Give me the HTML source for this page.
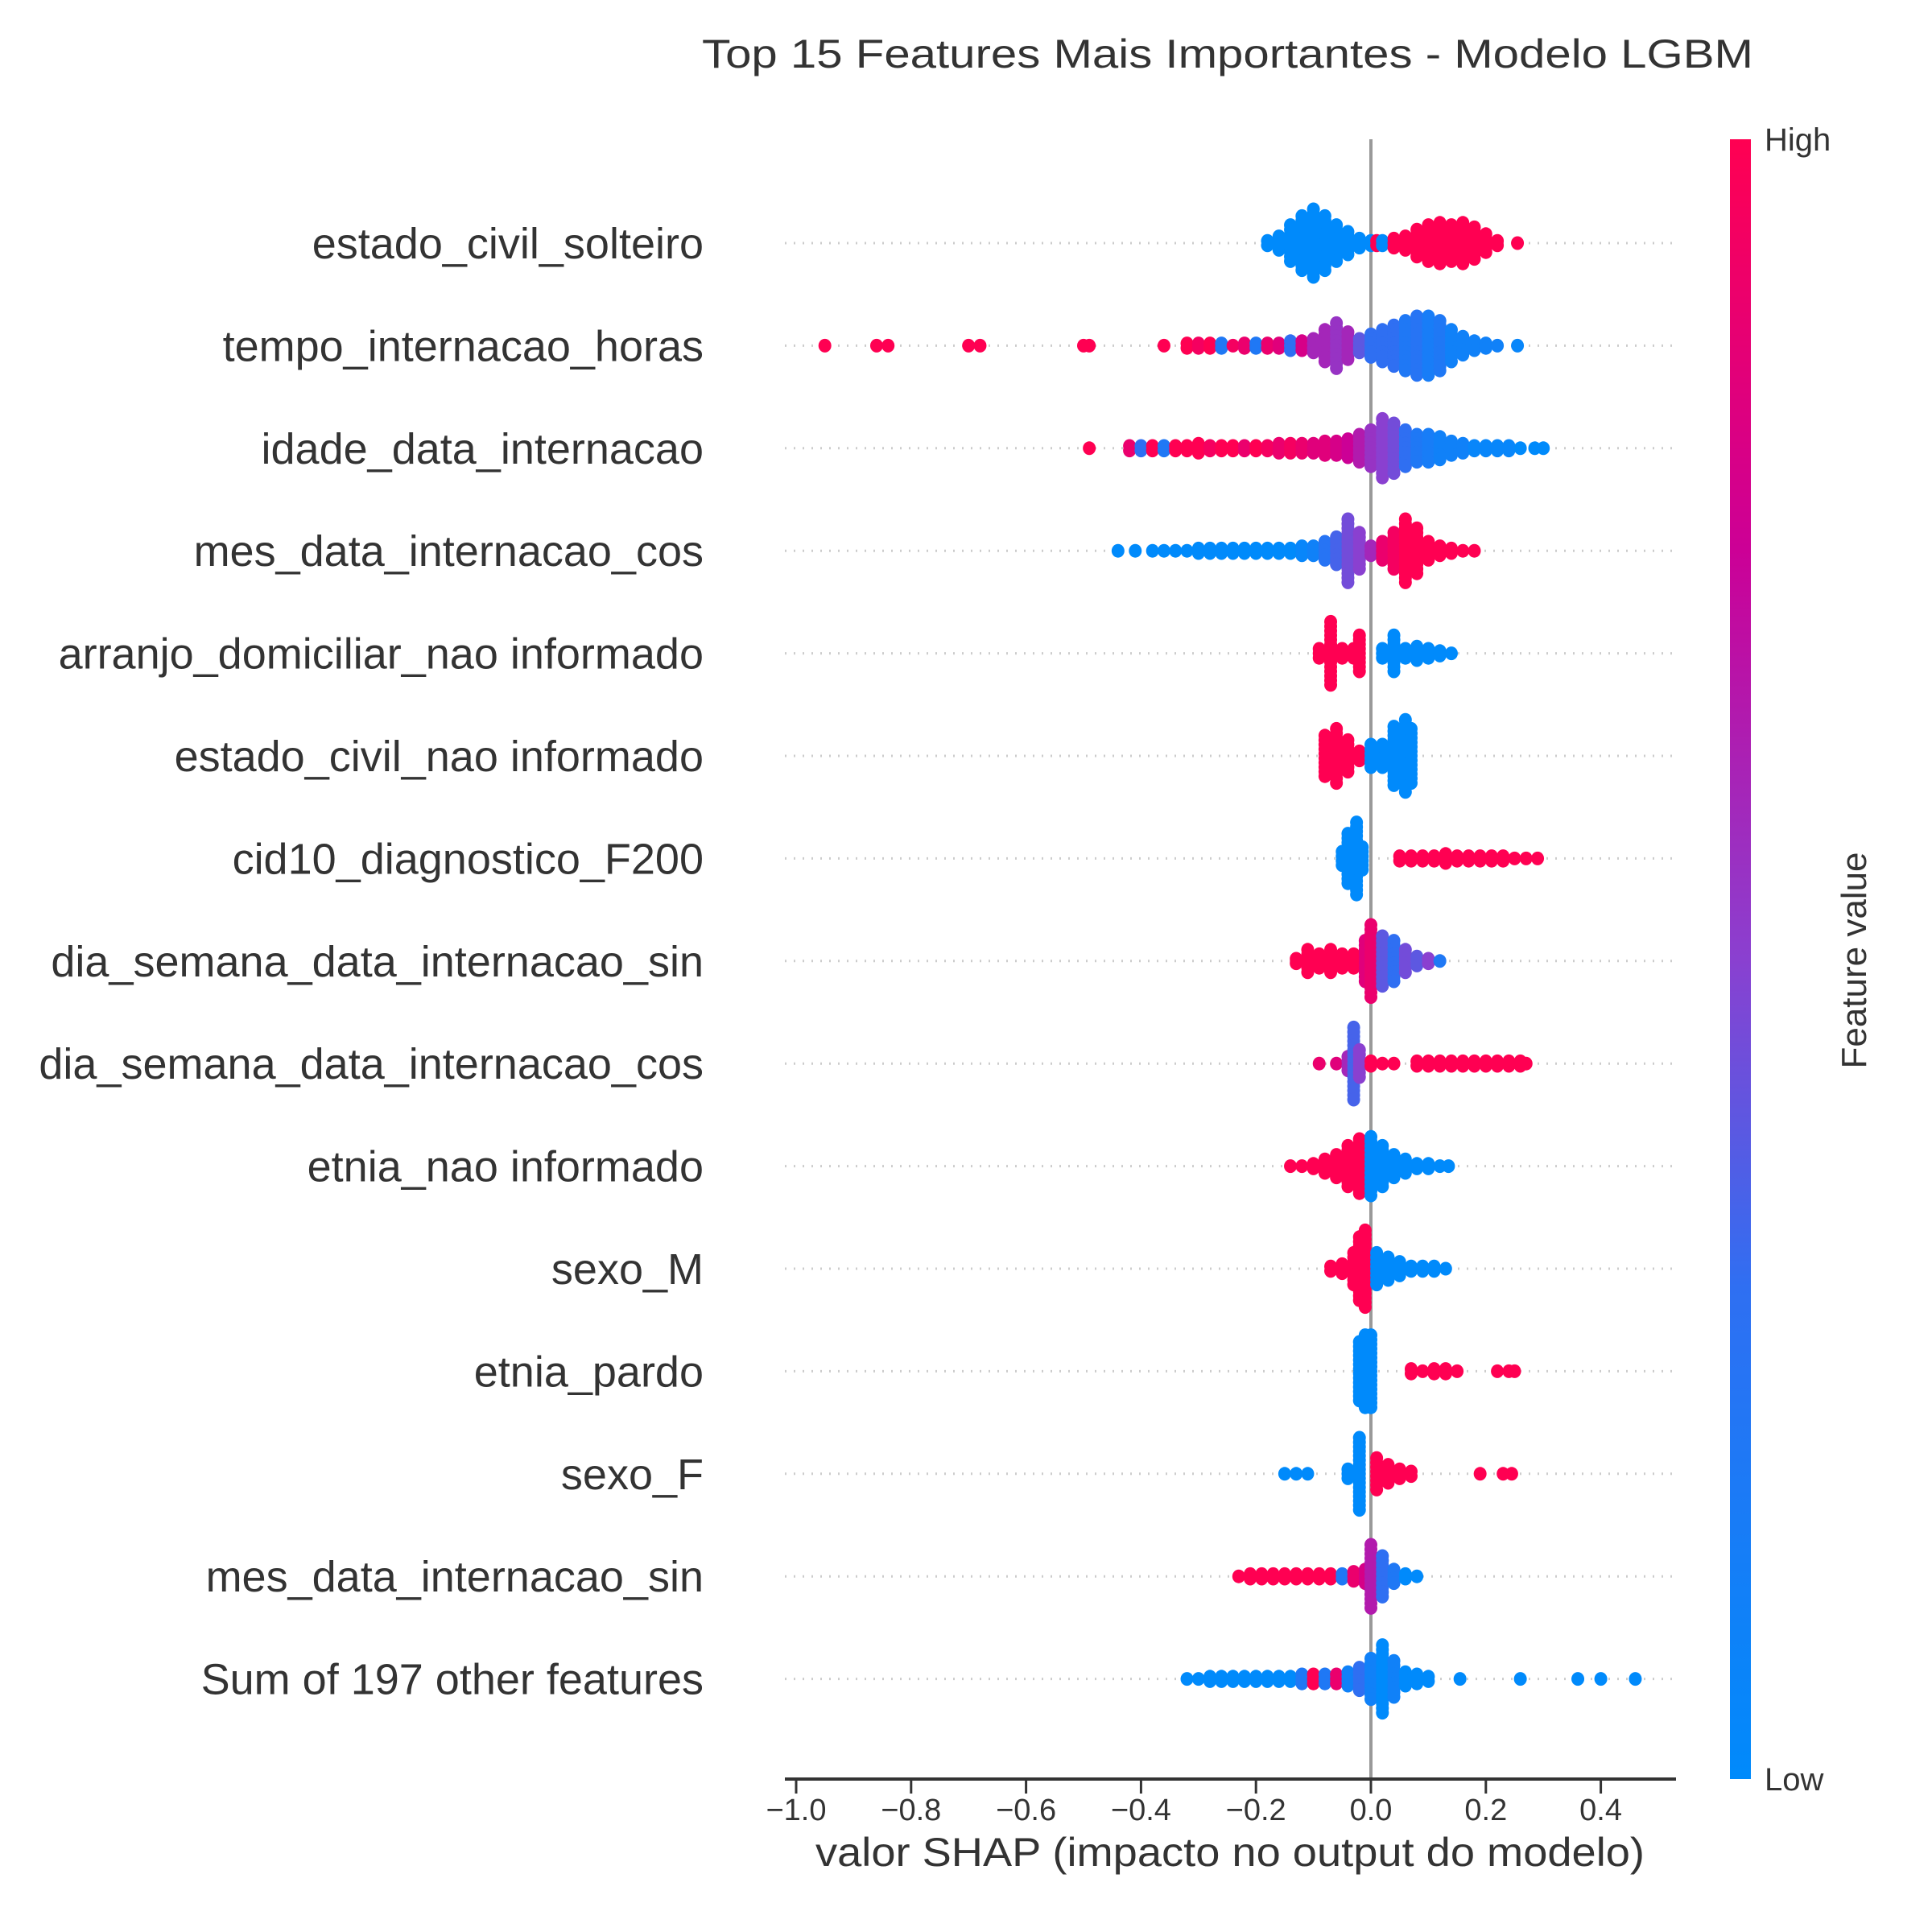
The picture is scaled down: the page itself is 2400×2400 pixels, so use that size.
<!DOCTYPE html>
<html><head><meta charset="utf-8"><style>
html,body{margin:0;padding:0;background:#fff;}
svg{display:block;font-family:"Liberation Sans",Arial,sans-serif;}
</style></head><body>
<svg id="chart" width="2400" height="2400" viewBox="0 0 2400 2400" xmlns="http://www.w3.org/2000/svg">
<defs><linearGradient id="cbar" x1="0" y1="1" x2="0" y2="0">
<stop offset="0" stop-color="#008afb"/><stop offset="0.3" stop-color="#2f6ff2"/><stop offset="0.5" stop-color="#8a40d0"/><stop offset="0.75" stop-color="#cc0096"/><stop offset="1" stop-color="#ff0052"/></linearGradient></defs>
<text x="1525" y="84" font-size="50" fill="#333" text-anchor="middle" textLength="1306" lengthAdjust="spacingAndGlyphs">Top 15 Features Mais Importantes - Modelo LGBM</text>
<g id="grid"></g><g id="ylabels"></g>
<line x1="1703" y1="173" x2="1703" y2="2210" stroke="#999" stroke-width="4"/>
<g id="dots"></g>
<line x1="975" y1="2210" x2="2082" y2="2210" stroke="#333" stroke-width="4"/>
<g id="xticks"></g>
<text x="1528" y="2318" font-size="50" fill="#333" text-anchor="middle" textLength="1030" lengthAdjust="spacingAndGlyphs">valor SHAP (impacto no output do modelo)</text>
<rect x="2149" y="173" width="26" height="2037" fill="url(#cbar)"/>
<text x="2192" y="187" font-size="40" fill="#333">High</text>
<text x="2192" y="2224" font-size="40" fill="#333">Low</text>
<text x="0" y="0" font-size="44" fill="#333" text-anchor="middle" transform="translate(2318,1193) rotate(-90)">Feature value</text>
</svg>
<script>
const features = ["estado_civil_solteiro","tempo_internacao_horas","idade_data_internacao","mes_data_internacao_cos","arranjo_domiciliar_nao informado","estado_civil_nao informado","cid10_diagnostico_F200","dia_semana_data_internacao_sin","dia_semana_data_internacao_cos","etnia_nao informado","sexo_M","etnia_pardo","sexo_F","mes_data_internacao_sin","Sum of 197 other features"];
const xTicks = [-1.0,-0.8,-0.6,-0.4,-0.2,0.0,0.2,0.4];
const xTickLabels = ["\u22121.0","\u22120.8","\u22120.6","\u22120.4","\u22120.2","0.0","0.2","0.4"];
// per row: shap value bins, stack counts, feature color (0=low,1=high)
const shap0 = [-0.18,-0.16,-0.14,-0.12,-0.10,-0.08,-0.06,-0.04,-0.02,0.0,0.01,0.02,0.04,0.06,0.08,0.10,0.12,0.14,0.16,0.18,0.20,0.22,0.255];
const cnt0  = [2,4,9,13,16,13,9,6,3,2,2,2,3,4,7,9,10,9,10,8,5,2,1];
const col0  = [0,0,0,0,0,0,0,0,0,0,1,0,1,1,1,1,1,1,1,1,1,1,1];
const shap1 = [-0.95,-0.86,-0.84,-0.70,-0.68,-0.50,-0.49,-0.36,-0.32,-0.30,-0.28,-0.26,-0.24,-0.22,-0.20,-0.18,-0.16,-0.14,-0.12,-0.10,-0.08,-0.06,-0.04,-0.02,0.0,0.02,0.04,0.06,0.08,0.10,0.12,0.14,0.16,0.18,0.20,0.22,0.255];
const cnt1  = [1,1,1,1,1,1,1,1,2,2,2,2,1,2,2,2,2,3,3,4,8,11,7,4,6,8,10,12,14,14,12,8,5,3,2,1,1];
const col1  = [1,1,1,1,1,1,1,1,1,0.95,1,0.2,0.95,0.9,0.2,0.9,0.85,0.3,0.8,0.6,0.6,0.55,0.6,0.4,0.3,0.3,0.3,0.2,0.25,0.15,0.2,0.1,0.1,0.1,0.1,0.1,0.05];
const shap2 = [-0.49,-0.42,-0.40,-0.38,-0.36,-0.34,-0.32,-0.30,-0.28,-0.26,-0.24,-0.22,-0.20,-0.18,-0.16,-0.14,-0.12,-0.10,-0.08,-0.06,-0.04,-0.02,0.0,0.02,0.04,0.06,0.08,0.10,0.12,0.14,0.16,0.18,0.20,0.22,0.24,0.26,0.285,0.30];
const cnt2  = [1,2,2,2,2,2,2,3,2,2,2,2,2,2,3,3,3,3,4,4,5,7,9,14,12,9,7,7,6,4,3,2,2,2,2,1,1,1];
const col2  = [1,0.9,0.3,1,0.2,1,1,1,0.95,1,1,0.9,1,0.95,0.9,0.95,0.9,0.85,0.85,0.8,0.75,0.65,0.55,0.5,0.45,0.3,0.2,0.15,0.1,0.1,0.1,0.05,0.05,0.05,0.05,0,0,0];
const shap3 = [-0.44,-0.41,-0.38,-0.36,-0.34,-0.32,-0.30,-0.28,-0.26,-0.24,-0.22,-0.20,-0.18,-0.16,-0.14,-0.12,-0.10,-0.08,-0.06,-0.04,-0.02,0.0,0.02,0.04,0.06,0.08,0.10,0.12,0.14,0.16,0.18];
const cnt3  = [1,1,1,1,1,1,2,2,2,2,2,2,2,2,2,3,3,5,7,15,9,3,5,9,15,11,5,3,2,1,1];
const col3  = [0,0,0,0,0,0,0,0,0,0,0,0,0,0,0,0.05,0.1,0.25,0.35,0.45,0.5,0.6,0.9,0.95,1,1,1,1,1,1,1];
const shap4 = [-0.09,-0.07,-0.05,-0.03,-0.02,0.02,0.04,0.06,0.08,0.10,0.12,0.14];
const cnt4  = [3,15,3,3,9,3,9,3,4,3,2,1];
const col4  = [1,1,1,1,1,0,0,0,0,0,0,0];
const shap5 = [-0.08,-0.06,-0.04,-0.02,0.0,0.02,0.04,0.06,0.07];
const cnt5  = [10,13,8,3,6,6,14,17,13];
const col5  = [1,1,1,1,0,0,0,0,0];
const shap6 = [-0.05,-0.04,-0.025,-0.015,0.05,0.07,0.09,0.11,0.13,0.15,0.17,0.19,0.21,0.23,0.25,0.27,0.29];
const cnt6  = [4,12,17,6,2,2,2,2,3,2,2,2,2,2,1,1,1];
const col6  = [0,0,0,0,1,1,1,1,1,1,1,1,1,1,1,1,1];
const shap7 = [-0.13,-0.11,-0.09,-0.07,-0.05,-0.03,-0.01,0.0,0.02,0.04,0.06,0.08,0.10,0.12];
const cnt7  = [2,6,4,6,4,4,10,17,12,10,6,3,2,1];
const col7  = [1,1,1,1,1,1,0.85,0.9,0.4,0.3,0.45,0.4,0.5,0.2];
const shap8 = [-0.09,-0.06,-0.04,-0.03,-0.02,0.0,0.02,0.04,0.08,0.10,0.12,0.14,0.16,0.18,0.20,0.22,0.24,0.26,0.27];
const cnt8  = [1,1,4,17,7,2,1,1,2,2,2,2,2,2,2,2,2,2,1];
const col8  = [0.9,0.85,0.6,0.35,0.5,1,1,1,1,1,1,1,1,1,1,1,1,1,1];
const shap9 = [-0.14,-0.12,-0.10,-0.08,-0.06,-0.04,-0.02,0.0,0.02,0.04,0.06,0.08,0.10,0.12,0.135];
const cnt9  = [1,1,2,4,6,10,13,14,10,6,4,2,2,1,1];
const col9  = [1,1,1,1,1,1,1,0,0,0,0,0,0,0,0];
const shap10 = [-0.07,-0.05,-0.03,-0.02,-0.01,0.01,0.03,0.05,0.07,0.09,0.11,0.13];
const cnt10  = [2,3,8,15,18,8,6,4,2,2,2,1];
const col10  = [1,1,1,1,1,0,0,0,0,0,0,0];
const shap11 = [-0.02,-0.01,0.0,0.07,0.09,0.11,0.13,0.15,0.22,0.24,0.25];
const cnt11  = [14,17,17,2,1,2,2,1,1,1,1];
const col11  = [0,0,0,1,1,1,1,1,1,1,1];
const shap12 = [-0.15,-0.13,-0.11,-0.04,-0.02,0.01,0.03,0.05,0.07,0.19,0.23,0.245];
const cnt12  = [1,1,1,3,17,8,5,3,2,1,1,1];
const col12  = [0,0,0,0,0,1,1,1,1,1,1,1];
const shap13 = [-0.23,-0.21,-0.19,-0.17,-0.15,-0.13,-0.11,-0.09,-0.07,-0.05,-0.03,-0.01,0.0,0.02,0.04,0.06,0.08];
const cnt13  = [1,2,2,2,2,2,2,2,2,2,3,4,15,10,4,2,1];
const col13  = [1,1,1,1,1,1,1,1,1,0.2,0.9,0.8,0.65,0.3,0.2,0,0];
const shap14 = [-0.32,-0.30,-0.28,-0.26,-0.24,-0.22,-0.20,-0.18,-0.16,-0.14,-0.12,-0.10,-0.08,-0.06,-0.04,-0.02,0.0,0.02,0.04,0.06,0.08,0.10,0.155,0.26,0.36,0.40,0.46];
const cnt14  = [1,1,2,2,2,2,2,2,2,2,3,3,3,3,4,6,10,16,9,4,3,2,1,1,1,1,1];
const col14  = [0,0,0,0,0,0,0,0,0,0,0.2,1,0.2,0.9,0.1,0.3,0.1,0,0.1,0,0,0,0,0,0,0,0];
const rowShap = [shap0,shap1,shap2,shap3,shap4,shap5,shap6,shap7,shap8,shap9,shap10,shap11,shap12,shap13,shap14];
const rowCnt = [cnt0,cnt1,cnt2,cnt3,cnt4,cnt5,cnt6,cnt7,cnt8,cnt9,cnt10,cnt11,cnt12,cnt13,cnt14];
const rowCol = [col0,col1,col2,col3,col4,col5,col6,col7,col8,col9,col10,col11,col12,col13,col14];

const NS = "http://www.w3.org/2000/svg";
const xScale = v => 1703 + v * 714;
const yRow = i => 302 + i * 127.4;
const stops = [[0,[0,138,251]],[0.3,[47,111,242]],[0.5,[138,64,208]],[0.75,[204,0,150]],[1,[255,0,82]]];
function cmap(t){
  for(let k=1;k<stops.length;k++){
    if(t<=stops[k][0]){
      const a=stops[k-1],b=stops[k],f=(t-a[0])/(b[0]-a[0]);
      return "rgb("+a[1].map((c,j)=>Math.round(c+(b[1][j]-c)*f)).join(",")+")";
    }
  }
  return "rgb(255,0,82)";
}
function mk(tag, attrs, parent){
  const el=document.createElementNS(NS,tag);
  for(const k in attrs) el.setAttribute(k,attrs[k]);
  parent.appendChild(el); return el;
}
const grid=document.getElementById("grid"), yl=document.getElementById("ylabels"), dots=document.getElementById("dots"), xt=document.getElementById("xticks");
features.forEach((f,i)=>{
  const y=yRow(i);
  const g=mk("line",{x1:975,y1:y,x2:2082,y2:y,stroke:"#cccccc","stroke-width":3,"stroke-dasharray":"2,9"},grid);
  
  
  const t=mk("text",{x:874,y:y+19,"font-size":54,fill:"#333","text-anchor":"end"},yl);
  t.textContent=f;
  
  
  const sh=rowShap[i], cn=rowCnt[i], co=rowCol[i];
  const rg=mk("g",{},dots);
  
  
  sh.forEach((v,j)=>{
    const n=cn[j], step=5.6;
    for(let k=0;k<n;k++){
      const off=(k-(n-1)/2)*step;
      const c=mk("ellipse",{cx:xScale(v),cy:y+off,rx:8,ry:8.5,fill:cmap(co[j])},rg);
      
      
    }
  });
});
xTicks.forEach((v,i)=>{
  const x=xScale(v);
  const l=mk("line",{x1:x,y1:2210,x2:x,y2:2228,stroke:"#333","stroke-width":3},xt);
  
  
  const t=mk("text",{x:x,y:2261,"font-size":38,fill:"#333","text-anchor":"middle"},xt);
  t.textContent=xTickLabels[i];
  
  
});
</script>
</body></html>
